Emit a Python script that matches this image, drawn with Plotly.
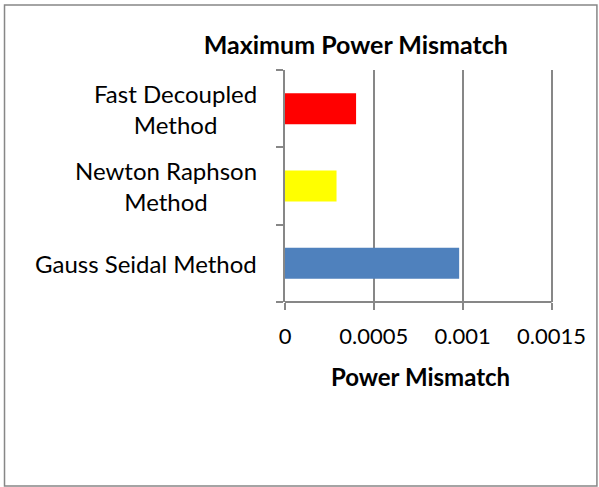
import plotly.graph_objects as go

# data (bottom to top)
methods = ["Gauss Seidal Method", "Newton Raphson Method", "Fast Decoupled Method"]
method_labels = ["Gauss Seidal Method", "Newton Raphson<br>Method", "Fast Decoupled<br>Method"]
mismatch = [0.00098, 0.00029, 0.00040]
bar_colors = ["#4F81BD", "#FFFF00", "#FF0000"]

x_ticks = [0, 0.0005, 0.001, 0.0015]
x_ticktext = ["0", "0.0005", "0.001", "0.0015"]

FONT = "Lato"
GRAY = "#878787"

fig = go.Figure()
fig.add_trace(go.Bar(
    y=methods,
    x=mismatch,
    orientation='h',
    marker=dict(color=bar_colors, line=dict(width=0)),
    showlegend=False,
))

# category labels, centred lines like the original
for m, lab in zip(methods, method_labels):
    fig.add_annotation(
        x=-0.096, xref='paper', y=m, yref='y',
        text=lab, showarrow=False,
        xanchor='right', yanchor='middle', align='center',
        font=dict(family=FONT, size=24, color='black'),
    )

# outer chart border (plot area is 271 x 232 px)
fig.add_shape(
    type='rect', xref='paper', yref='paper',
    x0=-1.035, x1=1.151, y0=-0.793, y1=1.280,
    line=dict(color=GRAY, width=1.5), fillcolor='rgba(0,0,0,0)', layer='below',
)

fig.update_layout(
    width=599, height=487,
    margin=dict(l=285, r=43, t=70, b=185),
    paper_bgcolor='white', plot_bgcolor='white',
    bargap=0.6,
    title=dict(
        text="<b>Maximum Power Mismatch</b>",
        x=0.594, xanchor='center', y=0.908, yanchor='middle',
        font=dict(family=FONT, size=25, color='black'),
    ),
    xaxis=dict(
        # small pad so the 0.0015 gridline is drawn at the right edge
        range=[0, 0.001525],
        tickvals=x_ticks, ticktext=x_ticktext,
        showgrid=True, gridcolor=GRAY, gridwidth=2,
        showline=False,
        ticks='outside', ticklen=7, tickcolor=GRAY, tickwidth=2,
        zeroline=False,
        ticklabelstandoff=8,
        tickfont=dict(family=FONT, size=22, color='black'),
        title=dict(text="<b>Power Mismatch</b>", standoff=20,
                   font=dict(family=FONT, size=24, color='black')),
    ),
    yaxis=dict(
        categoryorder='array', categoryarray=methods,
        showticklabels=False, showgrid=False,
        showline=True, linecolor=GRAY, linewidth=2,
        ticks='outside', ticklen=7, tickcolor=GRAY, tickwidth=2,
        tickson='boundaries',
    ),
)

# x axis line stops at 0.0015 like the original
fig.add_shape(
    type='line', xref='x', yref='paper',
    x0=x_ticks[0], x1=x_ticks[-1], y0=0, y1=0,
    line=dict(color=GRAY, width=2),
)

fig.write_html("out.html", config={'displayModeBar': False},
               post_script="document.body.style.margin='0';")
